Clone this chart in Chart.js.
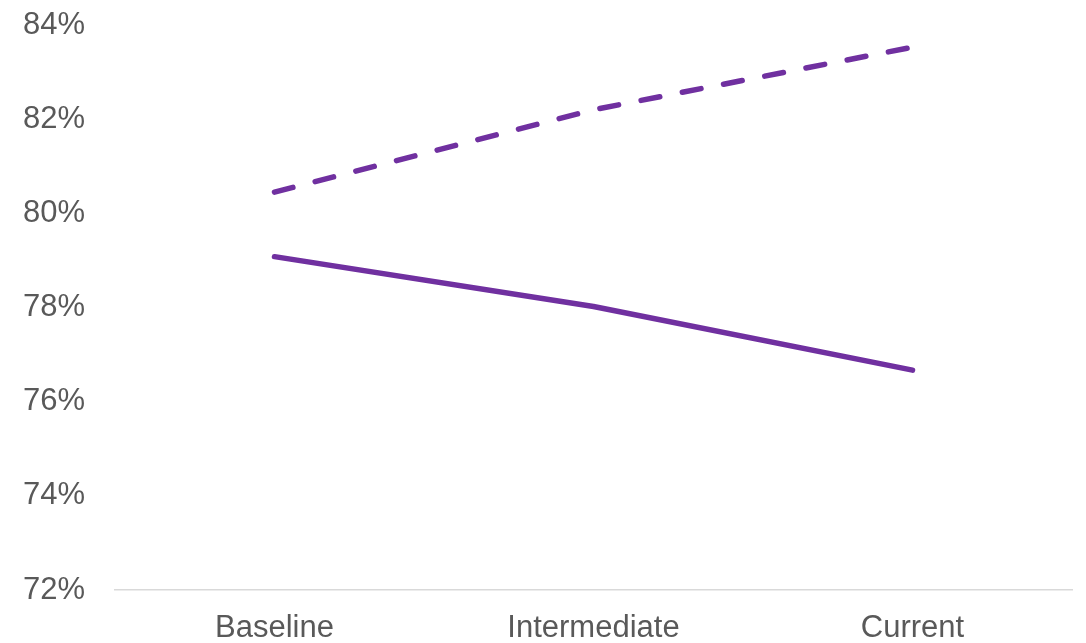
<!DOCTYPE html>
<html>
<head>
<meta charset="utf-8">
<script src="https://cdn.jsdelivr.net/npm/chart.js@4"></script>
<style>
    html, body { margin: 0; padding: 0; background: #fff; }
    #wrap { width: 1086px; height: 643px; }
</style>
</head>
<body>
<div id="wrap"><canvas id="myChart" width="1086" height="643"></canvas></div>
<script>
const categories = ['Baseline', 'Intermediate', 'Current'];
const dashedValues = [80.45, 82.2, 83.53];
const solidValues = [79.08, 78.02, 76.67];
const yTicks = [72, 74, 76, 78, 80, 82, 84];

const purple = '#7030A0';
const textColor = '#595959';

const ctx = document.getElementById('myChart').getContext('2d');
const myChart = new Chart(ctx, {
    type: 'line',
    data: {
        labels: categories,
        datasets: [{
            label: 'Dashed',
            data: dashedValues,
            borderColor: purple,
            borderWidth: 5.5,
            borderDash: [19, 23],
            borderCapStyle: 'round',
            pointRadius: 0,
            fill: false,
            tension: 0
        }, {
            label: 'Solid',
            data: solidValues,
            borderColor: purple,
            borderWidth: 5.5,
            borderCapStyle: 'round',
            borderJoinStyle: 'round',
            pointRadius: 0,
            fill: false,
            tension: 0
        }]
    },
    options: {
        responsive: false,
        animation: false,
        layout: { padding: { top: 25, right: 14, left: 0, bottom: 0 } },
        plugins: {
            legend: { display: false },
            tooltip: { enabled: false }
        },
        scales: {
            x: {
                offset: true,
                grid: { display: false, drawTicks: false },
                border: { display: true, color: '#D9D9D9', width: 1.5 },
                ticks: {
                    color: textColor,
                    padding: 20,
                    font: { family: 'Liberation Sans', size: 31 }
                },
                afterFit: (scale) => {
                    scale.height = 53;
                    scale.paddingLeft = 0;
                    scale.paddingRight = 0;
                }
            },
            y: {
                min: yTicks[0],
                max: yTicks[yTicks.length - 1],
                grid: { display: false, drawTicks: false },
                border: { display: false },
                afterBuildTicks: (scale) => {
                    scale.ticks = yTicks.map((v) => ({ value: v }));
                },
                ticks: {
                    color: textColor,
                    padding: 30,
                    font: { family: 'Liberation Sans', size: 31 },
                    callback: (v) => v + '%'
                },
                afterFit: (scale) => {
                    scale.width = 115;
                    scale.paddingTop = 0;
                    scale.paddingBottom = 0;
                }
            }
        }
    }
});
</script>
</body>
</html>
